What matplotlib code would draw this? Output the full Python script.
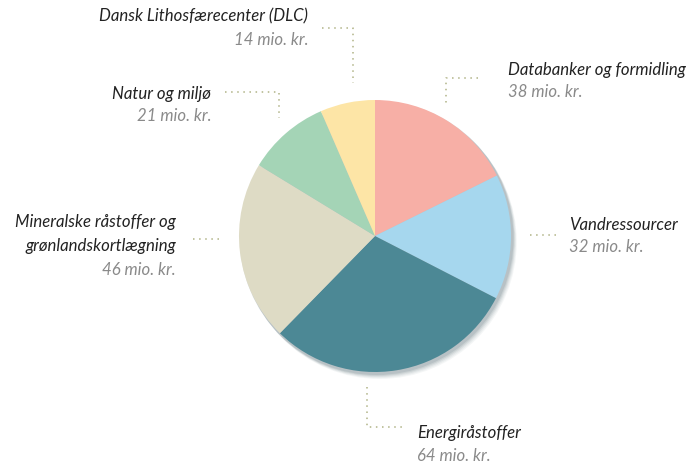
import matplotlib.pyplot as plt
from matplotlib.patches import Circle

# data
navne = ['Databanker og formidling', 'Vandressourcer', 'Energiråstoffer',
         'Mineralske råstoffer og\ngrønlandskortlægning', 'Natur og miljø',
         'Dansk Lithosfærecenter (DLC)']
beloeb = [38, 32, 64, 46, 21, 14]
farver = ['#F7AFA6', '#A6D7EE', '#4C8895', '#DEDBC5', '#A4D4B6', '#FDE5A6']

H = 464
fig = plt.figure(figsize=(6.92, 4.64), dpi=100)
ax = fig.add_axes([0, 0, 1, 1])
ax.set_xlim(0, 692)
ax.set_ylim(0, H)
ax.set_aspect('equal')
ax.axis('off')

cx, cy, r = 375, H - 237, 136

# blød skygge
for i, a in enumerate([0.05, 0.06, 0.08, 0.10, 0.12]):
    d = 6 - i
    ax.add_patch(Circle((cx + d * 0.8, cy - d), r + 1, color='#3a5560', alpha=a, lw=0, zorder=1))

ax.pie(beloeb, colors=farver, startangle=90, counterclock=False, radius=r,
       center=(cx, cy), frame=True, wedgeprops=dict(linewidth=0), normalize=True)
for w in ax.patches[-len(beloeb):]:
    w.set_zorder(2)
ax.set_xlim(0, 692)
ax.set_ylim(0, H)
ax.axis('off')

prik = dict(color='#B0B386', lw=1.1, ls=(0, (1, 3)), zorder=3)


def linje(xs, ys):
    ax.plot(xs, [H - y for y in ys], **prik)


linje([322, 353, 353], [29, 29, 84])
linje([225, 279, 279], [93, 93, 119])
linje([478, 446, 446], [79, 79, 104])
linje([530, 557], [236, 236])
linje([193, 223], [240, 240])
linje([367, 367, 405], [388, 428, 428])

fnt = 'Lato'
sort = dict(fontsize=12.1, style='italic', color='#222222', family=fnt, va='center')
graa = dict(fontsize=12.1, style='italic', color='#8a8a8a', family=fnt, va='center')


def tekst(x, y, s, ha, **kw):
    ax.text(x, H - y, s, ha=ha, **kw)


tekst(308, 16, navne[5], 'right', **sort)
tekst(308, 40, f'{beloeb[5]} mio. kr.', 'right', **graa)
tekst(211, 94, navne[4], 'right', **sort)
tekst(211, 116, f'{beloeb[4]} mio. kr.', 'right', **graa)
tekst(508, 70, navne[0], 'left', **sort)
tekst(508, 92, f'{beloeb[0]} mio. kr.', 'left', **graa)
tekst(569, 225, navne[1], 'left', **sort)
tekst(569, 247, f'{beloeb[1]} mio. kr.', 'left', **graa)
tekst(176, 222, navne[3].split('\n')[0], 'right', **sort)
tekst(176, 246, navne[3].split('\n')[1], 'right', **sort)
tekst(176, 270, f'{beloeb[3]} mio. kr.', 'right', **graa)
tekst(417, 433, navne[2], 'left', **sort)
tekst(417, 456, f'{beloeb[2]} mio. kr.', 'left', **graa)

fig.savefig('out.png', dpi=100)
